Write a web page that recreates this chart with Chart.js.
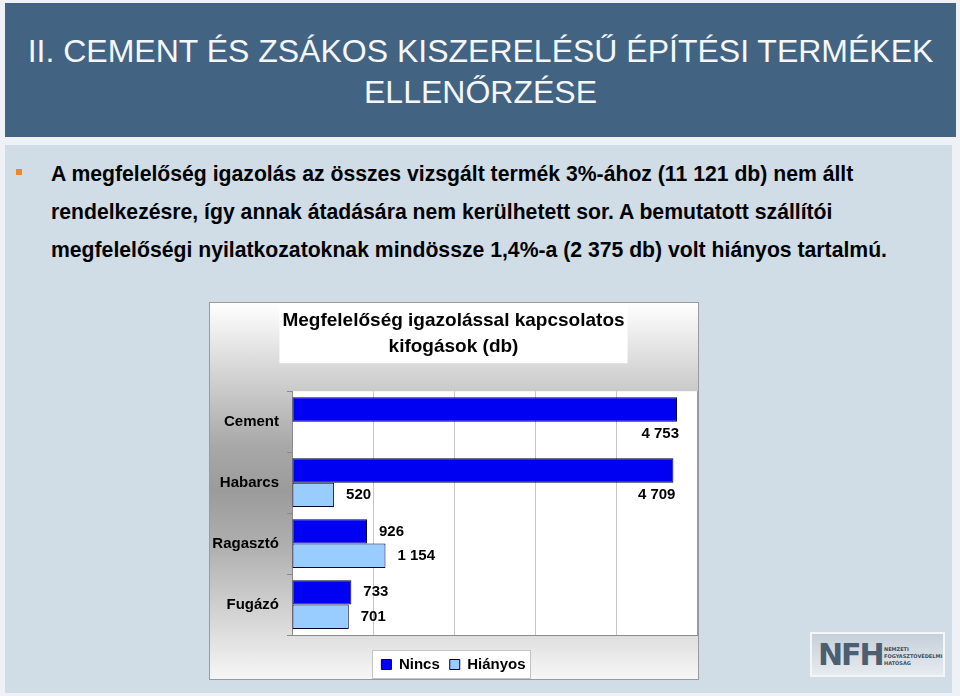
<!DOCTYPE html>
<html><head><meta charset="utf-8">
<script src="https://cdn.jsdelivr.net/npm/chart.js@4.4.0/dist/chart.umd.min.js"></script>
<style>
html,body{margin:0;padding:0;}
body{width:960px;height:696px;position:relative;background:#eef2f6;font-family:"Liberation Sans",Arial,sans-serif;overflow:hidden;}
#header{position:absolute;left:5px;top:3px;width:951px;height:134px;background:#436383;}
#htitle{position:absolute;left:0;top:28px;width:951px;text-align:center;color:#f4f7fa;font-size:32px;line-height:41px;white-space:nowrap;}
#panel{position:absolute;left:5px;top:145px;width:947px;height:548px;background:#d1dde6;}
.bl{position:absolute;left:51px;font-weight:bold;font-size:21.2px;line-height:38px;white-space:nowrap;color:#000;}
#bullet{position:absolute;left:16px;top:169px;width:6px;height:6px;background:#f0862a;}
#chartbox{position:absolute;left:209px;top:302px;width:490px;height:378px;box-sizing:border-box;border:1px solid #9a9a9a;
  background:linear-gradient(to bottom,#ffffff 0%,#a8a8a8 38%,#9b9b9b 50%,#b0b0b0 65%,#f6f6f6 100%);}
#chartbox canvas{position:absolute;left:0;top:0;}
#logo{position:absolute;left:810px;top:632px;width:135px;height:45px;box-sizing:border-box;border:2px solid #f3f6f8;
  background:linear-gradient(to bottom,#c6d0da,#e6ebef);}
#logo .nfh{position:absolute;left:6px;top:5px;font-family:"DejaVu Sans",sans-serif;font-weight:bold;font-size:30px;line-height:32px;color:#4c5e70;letter-spacing:-2px;}
#logo .small{position:absolute;left:72px;top:12px;font-family:"DejaVu Sans",sans-serif;font-weight:bold;font-size:5px;line-height:7px;color:#3e4e5e;}
</style></head>
<body>
<div id="header"><div id="htitle">II. CEMENT ÉS ZSÁKOS KISZERELÉSŰ ÉPÍTÉSI TERMÉKEK<br>ELLENŐRZÉSE</div></div>
<div id="panel"></div>
<div id="bullet"></div>
<div class="bl" style="top:155px">A megfelelőség igazolás az összes vizsgált termék 3%-ához (11 121 db) nem állt</div>
<div class="bl" style="top:193px">rendelkezésre, így annak átadására nem kerülhetett sor. A bemutatott szállítói</div>
<div class="bl" style="top:231px">megfelelőségi nyilatkozatoknak mindössze 1,4%-a (2 375 db) volt hiányos tartalmú.</div>
<div id="chartbox"><canvas id="c" width="488" height="376" style="width:488px;height:376px"></canvas></div>
<div id="logo"><div class="nfh">NFH</div><div class="small">NEMZETI<br>FOGYASZTÓVÉDELMI<br>HATÓSÁG</div></div>
<script>
const categories = ['Cement', 'Habarcs', 'Ragasztó', 'Fugázó'];
const seriesNames = ['Nincs', 'Hiányos'];
const nincsValues = [4753, 4709, 926, 733];
const hianyosValues = [null, 520, 1154, 701];
const chartTitle = ['Megfelelőség igazolással kapcsolatos', 'kifogások (db)'];
const xMin = 0, xMax = 5000, xStep = 1000;

const FONT = '"Liberation Sans", Arial, sans-serif';
const fmt = v => String(v).replace(/\B(?=(\d{3})+(?!\d))/g, ' ');

const backgrounds = {
  id: 'backgrounds',
  beforeDraw(chart) {
    const {ctx, chartArea: a} = chart;
    ctx.save();
    ctx.fillStyle = '#fff';
    const tb = chart.titleBlock;
    if (tb) {
      ctx.font = 'bold 19px ' + FONT;
      const tw = ctx.measureText(chartTitle[0]).width + 6;
      const cx = (tb.left + tb.right) / 2;
      ctx.fillRect(cx - tw / 2, tb.top, tw, 4 + 2 * 19 * 1.4 + 3);
    }
    ctx.fillRect(a.left, a.top, a.right - a.left, a.bottom - a.top);
    const lg = chart.legend;
    if (lg && lg.legendHitBoxes && lg.legendHitBoxes.length) {
      const hb = lg.legendHitBoxes;
      const l = Math.min(...hb.map(h => h.left)) - 9;
      const r = Math.max(...hb.map(h => h.left + h.width)) + 5;
      const cy = hb[0].top + hb[0].height / 2;
      ctx.fillRect(l, cy - 14.5, r - l, 29);
      ctx.strokeStyle = '#c4c4c4';
      ctx.lineWidth = 1;
      ctx.strokeRect(Math.round(l) + 0.5, Math.round(cy - 14.5) + 0.5, Math.round(r - l), 28);
    }
    ctx.restore();
  }
};

const valueLabels = {
  id: 'valueLabels',
  afterDatasetsDraw(chart) {
    const {ctx, chartArea} = chart;
    ctx.save();
    ctx.font = 'bold 15px ' + FONT;
    ctx.fillStyle = '#000';
    ctx.textBaseline = 'middle';
    chart.data.datasets.forEach((ds, di) => {
      const meta = chart.getDatasetMeta(di);
      meta.data.forEach((bar, i) => {
        const v = ds.data[i];
        if (v == null) return;
        const txt = fmt(v);
        const w = ctx.measureText(txt).width;
        if (bar.x + 12 + w > chartArea.right) {
          ctx.textAlign = 'right';
          ctx.fillText(txt, bar.x + 2, bar.y + bar.height);
        } else {
          ctx.textAlign = 'left';
          ctx.fillText(txt, bar.x + 12, bar.y);
        }
      });
    });
    ctx.restore();
  }
};

new Chart(document.getElementById('c'), {
  type: 'bar',
  data: {
    labels: categories,
    datasets: [
      {label: seriesNames[0], data: nincsValues, backgroundColor: '#0000f2', borderColor: '#000038', borderWidth: 1, borderSkipped: false},
      {label: seriesNames[1], data: hianyosValues, backgroundColor: '#99ccff', borderColor: '#000038', borderWidth: 1, borderSkipped: false}
    ]
  },
  options: {
    indexAxis: 'y',
    responsive: false,
    animation: false,
    devicePixelRatio: 1,
    categoryPercentage: 0.8,
    barPercentage: 1.0,
    layout: {padding: {left: 0, right: 1, top: 0, bottom: -3}},
    scales: {
      x: {
        min: xMin, max: xMax,
        ticks: {display: false, stepSize: xStep},
        grid: {drawTicks: false, color: c => (c.tick && c.tick.value === xMax) ? '#9a9a9a' : '#c6c6c6', lineWidth: 1},
        border: {display: true, color: '#8a8a8a'},
        afterFit(s) { s.height = 12; }
      },
      y: {
        grid: {display: true, drawOnChartArea: false, drawTicks: true, tickLength: 5, color: '#8a8a8a', offset: true},
        border: {display: true, color: '#8a8a8a'},
        ticks: {font: {size: 15, weight: 'bold', family: FONT}, color: '#000', padding: 8},
        afterFit(s) { s.width = 82; }
      }
    },
    plugins: {
      title: {display: true, text: chartTitle, color: '#000', font: {size: 19, weight: 'bold', family: FONT, lineHeight: 1.4}, padding: {top: 4, bottom: 31}},
      legend: {position: 'bottom', labels: {boxWidth: 10, boxHeight: 10, padding: 10, color: '#000', font: {size: 15, weight: 'bold', family: FONT}}},
      tooltip: {enabled: false}
    }
  },
  plugins: [backgrounds, valueLabels]
});
</script>
</body></html>
